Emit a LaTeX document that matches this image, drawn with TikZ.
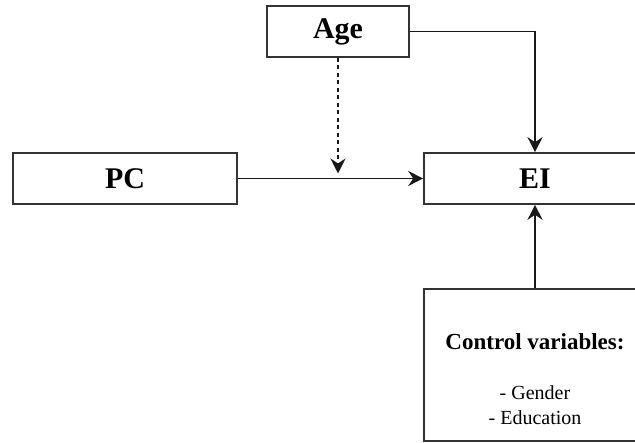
\documentclass[tikz,border=0pt]{standalone}
\usepackage{fontspec}
\setmainfont{Liberation Serif}
\usetikzlibrary{arrows.meta}
\begin{document}
\begin{tikzpicture}[x=1pt,y=-1pt,
  box/.style={draw=black!80,line width=1.6pt,fill=white,inner sep=0pt},
  bigtext/.style={font=\fontsize{30}{34}\selectfont\bfseries},
  conn/.style={draw=black!90,line width=1.7pt,-{Stealth[length=15pt,width=15pt,inset=5pt]}},
  dashconn/.style={conn,dash pattern=on 4pt off 3.5pt}]
\useasboundingbox (0,0) rectangle (635,443);
\clip (0,0) rectangle (635,443);
\node[box,minimum width=142pt,minimum height=51pt,bigtext] (age) at (338,31.5) {Age};
\node[box,minimum width=224pt,minimum height=51pt,bigtext] (pc) at (125,178.5) {PC};
\node[box,minimum width=222pt,minimum height=51pt,bigtext] (ei) at (535,178.5) {EI};
\node[box,minimum width=222pt,minimum height=152pt] (ctrl) at (535,365) {};
\node[anchor=base,font=\fontsize{23}{27}\selectfont\bfseries] (cvhead) at (535,349.5) {Control variables:};
\node[anchor=base,font=\fontsize{20}{24}\selectfont] (cvg) at (535,400) {- Gender};
\node[anchor=base,font=\fontsize{20}{24}\selectfont] (cve) at (535,425) {- Education};
\coordinate (mod) at (age.south |- pc.east);
\draw[conn] (pc.east) -- (ei.west);
\draw[conn] (age.east) -| (ei.north);
\draw[conn] (ctrl.north) -- (ei.south);
\draw[dashconn,shorten >=5pt] (age.south) -- (mod);
\end{tikzpicture}
\end{document}
